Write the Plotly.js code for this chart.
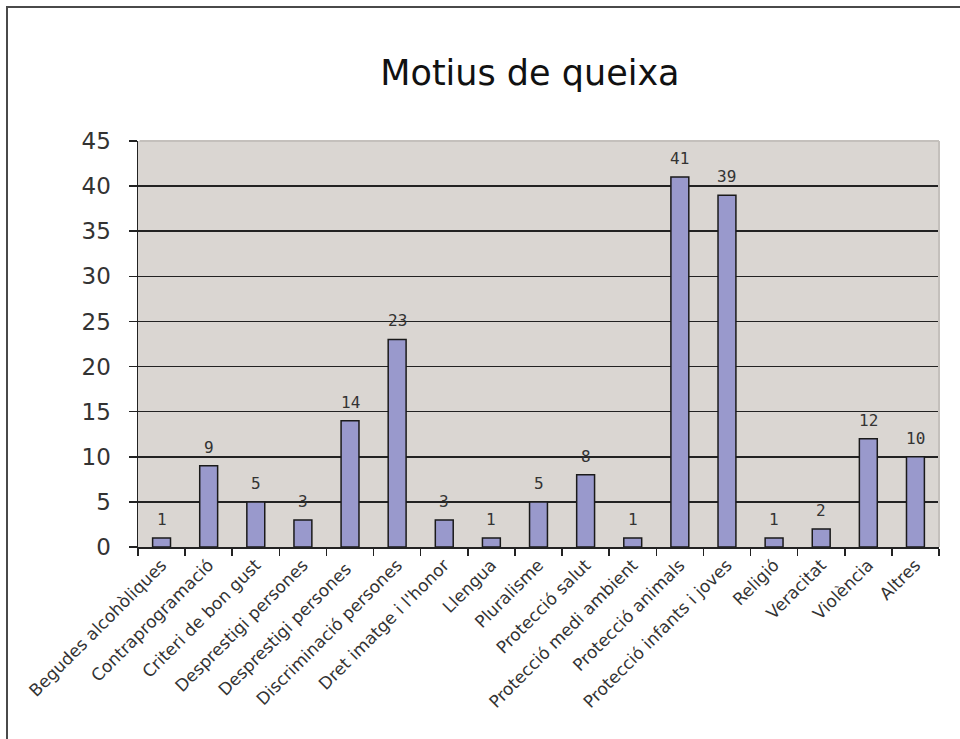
<!DOCTYPE html>
<html>
<head>
<meta charset="utf-8">
<script src="https://cdn.plot.ly/plotly-3.0.1.min.js"></script>
<style>
html,body{margin:0;padding:0;background:#fff;overflow:hidden;}
#frame{position:absolute;left:6px;top:6px;width:1000px;height:800px;border-left:2px solid #4a4a4a;border-top:2px solid #4a4a4a;pointer-events:none;z-index:5;}
#chart{position:absolute;left:0;top:0;width:960px;height:739px;}
</style>
</head>
<body>
<div id="chart"></div>
<div id="frame"></div>
<script>
const categories = [
  "Begudes alcohòliques","Contraprogramació","Criteri de bon gust","Desprestigi persones",
  "Desprestigi persones ","Discriminació persones","Dret imatge i l'honor","Llengua",
  "Pluralisme","Protecció salut","Protecció medi ambient","Protecció animals",
  "Protecció infants i joves","Religió","Veracitat","Violència","Altres"
];
const values = [1, 9, 5, 3, 14, 23, 3, 1, 5, 8, 1, 41, 39, 1, 2, 12, 10];
const yTicks = [0, 5, 10, 15, 20, 25, 30, 35, 40, 45];
const chartTitle = "Motius de queixa";

const annotations = categories.map((c, i) => ({
  x: c, y: values[i], xref: 'x', yref: 'y',
  text: String(values[i]), showarrow: false,
  yanchor: 'bottom', yshift: 7,
  font: {family: '"DejaVu Sans Mono", "Liberation Mono", monospace', size: 16, color: '#333'}
}));

const trace = {
  type: 'bar',
  x: categories,
  y: values,
  marker: {color: '#9999CC', line: {color: '#1a1a1a', width: 1.5}},
  hoverinfo: 'none'
};

const layout = {
  width: 960, height: 739,
  margin: {l: 138, r: 21, t: 141, b: 192},
  paper_bgcolor: '#ffffff',
  plot_bgcolor: '#DAD6D2',
  bargap: 0.62,
  showlegend: false,
  font: {family: '"DejaVu Sans", Verdana, sans-serif', color: '#222'},
  title: {
    text: chartTitle,
    font: {family: '"DejaVu Sans", Verdana, sans-serif', size: 35, color: '#111'},
    x: 0.552, xref: 'container', xanchor: 'center',
    y: 0.902, yref: 'container', yanchor: 'middle'
  },
  xaxis: {
    type: 'category',
    tickangle: -45,
    ticks: 'outside', tickson: 'boundaries', ticklen: 7, tickwidth: 1.5, tickcolor: '#222',
    showline: true, linecolor: '#222', linewidth: 1.5,
    showgrid: false,
    tickfont: {family: '"DejaVu Sans", Verdana, sans-serif', size: 17, color: '#333'},
    automargin: false
  },
  yaxis: {
    range: [0, 45],
    tickvals: yTicks,
    ticktext: yTicks.map(String),
    ticks: 'outside', ticklen: 8, tickwidth: 1.5, tickcolor: '#222',
    showline: true, linecolor: '#222', linewidth: 1.5,
    showgrid: true, gridcolor: '#222', gridwidth: 1.5,
    zeroline: false,
    ticklabelstandoff: 13,
    tickfont: {family: '"DejaVu Sans", Verdana, sans-serif', size: 23, color: '#333'},
    automargin: false
  },
  shapes: [
    {type: 'line', xref: 'paper', yref: 'paper', x0: 0.002, x1: 1, y0: 1, y1: 1, line: {color: '#C4C0BC', width: 2}, layer: 'above'},
    {type: 'line', xref: 'paper', yref: 'paper', x0: 1, x1: 1, y0: 0, y1: 1, line: {color: '#C4C0BC', width: 2}, layer: 'above'}
  ],
  annotations: annotations
};

Plotly.newPlot('chart', [trace], layout, {displayModeBar: false, staticPlot: true});
</script>
</body>
</html>
